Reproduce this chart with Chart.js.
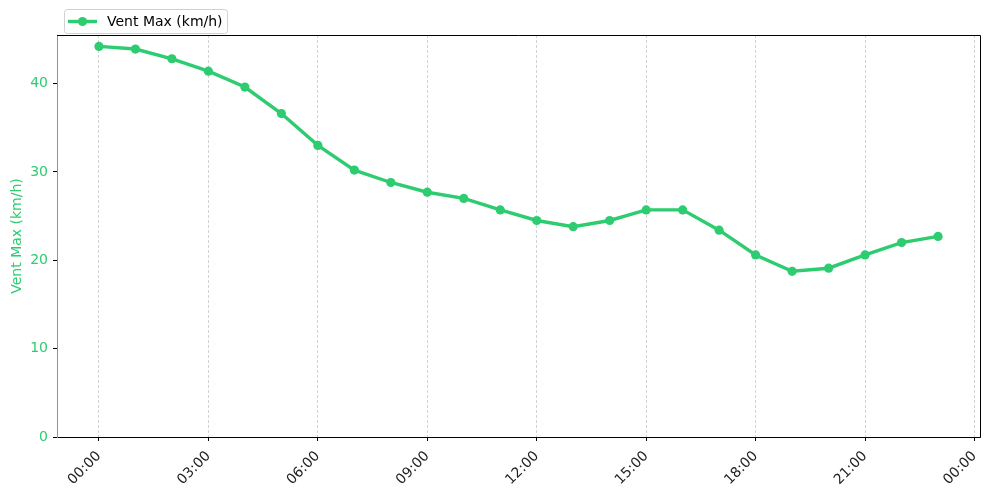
<!DOCTYPE html>
<html>
<head>
<meta charset="utf-8">
<script src="https://cdn.jsdelivr.net/npm/chart.js@4.4.0/dist/chart.umd.min.js"></script>
<style>
  html, body { margin: 0; padding: 0; background: #fff; }
  #wrap { width: 989px; height: 494px; }
</style>
</head>
<body>
<div id="wrap"><canvas id="chart" width="989" height="494"></canvas></div>
<script>
// Données : heure de la journée et vent max
const hours = [0, 1, 2, 3, 4, 5, 6, 7, 8, 9, 10, 11, 12, 13, 14, 15, 16, 17, 18, 19, 20, 21, 22, 23];
const ventMax = [44.2, 43.9, 42.8, 41.4, 39.6, 36.6, 33.0, 30.2, 28.8, 27.7, 27.0, 25.7,
                 24.5, 23.8, 24.5, 25.7, 25.7, 23.4, 20.6, 18.75, 19.1, 20.6, 22.0, 22.7];
const seriesLabel = 'Vent Max (km/h)';

// Graduations
const xTicks = [0, 3, 6, 9, 12, 15, 18, 21, 24];
const xTickLabels = ['00:00', '03:00', '06:00', '09:00', '12:00', '15:00', '18:00', '21:00', '00:00'];
const yTicks = [0, 10, 20, 30, 40];

const GREEN = '#2ecc71';
const FONT = 'DejaVu Sans';
const FONT_SIZE = 14;

// Cadre haut / droite + légende façon matplotlib
const framePlugin = {
    id: 'frame',
    afterDraw(chart) {
        const { ctx, chartArea: a } = chart;
        ctx.save();
        ctx.strokeStyle = '#000';
        ctx.lineWidth = 1;
        ctx.beginPath();
        ctx.moveTo(a.left, a.top + 0.5);
        ctx.lineTo(a.right + 0.5, a.top + 0.5);
        ctx.lineTo(a.right + 0.5, a.bottom);
        ctx.stroke();

        // légende
        const ds = chart.data.datasets[0];
        const bx = 64.5, by = 9.5, bw = 163, bh = 24;
        ctx.fillStyle = 'rgba(255,255,255,0.8)';
        ctx.strokeStyle = '#d0d0d0';
        ctx.beginPath();
        ctx.roundRect(bx, by, bw, bh, 3);
        ctx.fill();
        ctx.stroke();

        const cy = by + bh / 2;
        ctx.strokeStyle = ds.borderColor;
        ctx.lineWidth = ds.borderWidth;
        ctx.beginPath();
        ctx.moveTo(68, cy);
        ctx.lineTo(97, cy);
        ctx.stroke();
        ctx.fillStyle = ds.pointBackgroundColor;
        ctx.beginPath();
        ctx.arc(82.5, cy, ds.pointRadius, 0, Math.PI * 2);
        ctx.fill();

        ctx.fillStyle = '#000';
        ctx.font = FONT_SIZE + 'px "' + FONT + '"';
        ctx.textBaseline = 'middle';
        ctx.textAlign = 'left';
        ctx.fillText(ds.label, 107, cy + 0.5);
        ctx.restore();
    }
};

document.addEventListener('DOMContentLoaded', () => {
    const ctx = document.getElementById('chart').getContext('2d');
    new Chart(ctx, {
        type: 'line',
        data: {
            datasets: [{
                label: seriesLabel,
                data: hours.map((h, i) => ({ x: h, y: ventMax[i] })),
                borderColor: GREEN,
                backgroundColor: GREEN,
                pointBackgroundColor: GREEN,
                pointBorderColor: GREEN,
                borderWidth: 3.4,
                pointRadius: 4.6,
                pointBorderWidth: 0,
                tension: 0,
                fill: false
            }]
        },
        options: {
            responsive: false,
            devicePixelRatio: 1,
            animation: false,
            layout: { padding: { top: 35, right: 9, left: 0, bottom: 0 } },
            plugins: {
                legend: { display: false },
                tooltip: { enabled: false }
            },
            scales: {
                x: {
                    type: 'linear',
                    min: -1.15,
                    max: 24.15,
                    afterBuildTicks: s => { s.ticks = xTicks.map(v => ({ value: v })); },
                    afterFit: s => { s.height = 57; s.paddingLeft = 0; s.paddingRight = 0; },
                    border: { display: true, color: '#000', width: 1, dash: [3, 2] },
                    grid: {
                        display: true,
                        drawOnChartArea: true,
                        color: '#c8c8c8',
                        lineWidth: 0.8,
                        drawTicks: true,
                        tickLength: 4,
                        tickColor: '#000',
                        tickWidth: 1,
                        tickBorderDash: []
                    },
                    ticks: {
                        autoSkip: false,
                        minRotation: 45,
                        maxRotation: 45,
                        padding: 7,
                        color: '#222',
                        font: { family: FONT, size: FONT_SIZE },
                        callback: (v, i) => xTickLabels[i]
                    }
                },
                y: {
                    type: 'linear',
                    min: 0,
                    max: 45.49,
                    afterBuildTicks: s => { s.ticks = yTicks.map(v => ({ value: v })); },
                    afterFit: s => { s.width = 57; s.paddingTop = 0; s.paddingBottom = 0; },
                    border: { display: true, color: GREEN, width: 1 },
                    grid: {
                        display: true,
                        drawOnChartArea: false,
                        drawTicks: true,
                        tickLength: 4,
                        tickColor: '#000',
                        tickWidth: 1
                    },
                    ticks: {
                        padding: 5,
                        color: GREEN,
                        font: { family: FONT, size: FONT_SIZE }
                    },
                    title: {
                        display: true,
                        text: seriesLabel,
                        color: GREEN,
                        font: { family: FONT, size: FONT_SIZE },
                        padding: { top: 9, bottom: 0 }
                    }
                }
            }
        },
        plugins: [framePlugin]
    });
});
</script>
</body>
</html>
